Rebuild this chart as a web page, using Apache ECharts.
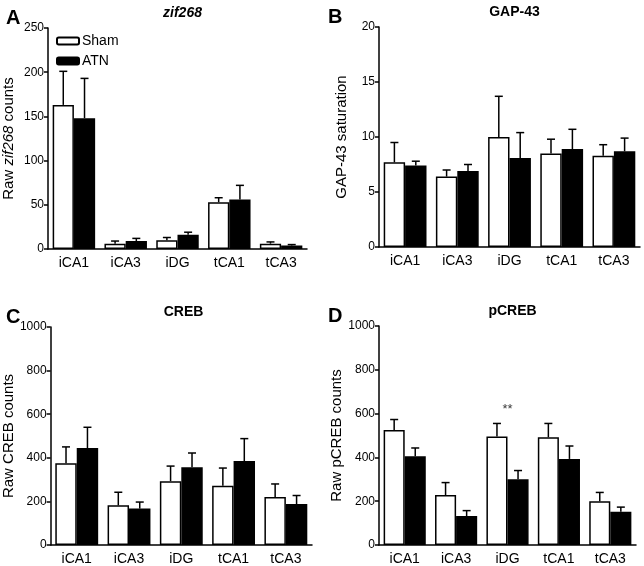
<!DOCTYPE html>
<html><head><meta charset="utf-8">
<script src="https://cdn.jsdelivr.net/npm/echarts@6/dist/echarts.min.js"></script>
<style>html,body{margin:0;padding:0;background:#fff}#c{width:644px;height:566px}</style>
</head><body><div id="c"></div>
<script>
var categories = ['iCA1','iCA3','iDG','tCA1','tCA3'];

var zifSham = [163, 6, 10, 53, 6];
var zifShamErr = [201, 9, 13, 58, 8];
var zifATN = [148, 9, 16, 56, 4];
var zifATNErr = [193, 12, 19, 72, 5];

var gapSham = [7.7, 6.4, 10.0, 8.5, 8.3];
var gapShamErr = [9.5, 7.0, 13.7, 9.8, 9.3];
var gapATN = [7.4, 6.9, 8.1, 8.9, 8.7];
var gapATNErr = [7.8, 7.5, 10.4, 10.7, 9.9];

var crebSham = [375, 182, 293, 272, 220];
var crebShamErr = [450, 242, 362, 353, 280];
var crebATN = [445, 167, 357, 385, 188];
var crebATNErr = [540, 197, 422, 488, 227];

var pcrebSham = [525, 228, 495, 492, 200];
var pcrebShamErr = [573, 285, 555, 555, 240];
var pcrebATN = [405, 132, 300, 393, 152];
var pcrebATNErr = [443, 157, 340, 452, 173];

var sigCategory = ['iDG'];
var sigLevel = [620];
var sigText = ['**'];

var panels = [
  {letter:'A', title:'{i|zif268}', yname:'{n|Raw }{ni|zif268}{n| counts}', max:250, interval:50, sham:zifSham, shamErr:zifShamErr, atn:zifATN, atnErr:zifATNErr,
   grid:{left:48, top:28, width:259, height:221}},
  {letter:'B', title:'{b|GAP-43}', yname:'{n|GAP-43 saturation}', max:20, interval:5, sham:gapSham, shamErr:gapShamErr, atn:gapATN, atnErr:gapATNErr,
   grid:{left:379, top:27, width:261, height:220}},
  {letter:'C', title:'{b|CREB}', yname:'{n|Raw CREB counts}', max:1000, interval:200, sham:crebSham, shamErr:crebShamErr, atn:crebATN, atnErr:crebATNErr,
   grid:{left:45, top:327, width:267, height:222}},
  {letter:'D', title:'{b|pCREB}', yname:'{n|Raw pCREB counts}', max:1000, interval:200, sham:pcrebSham, shamErr:pcrebShamErr, atn:pcrebATN, atnErr:pcrebATNErr,
   grid:{left:379, top:326, width:257, height:221}}
];

var FONT = 'Liberation Sans';
var GAPFRAC = 0.82;

function errRender(side){
  return function(params, api){
    var base = api.coord([api.value(0), api.value(1)]);
    var top = api.coord([api.value(0), api.value(2)]);
    var bw = api.size([1,0])[0];
    var x = base[0] + side * bw * GAPFRAC / 4;
    var st = {stroke:'#000', lineWidth:1.5};
    return {type:'group', children:[
      {type:'line', shape:{x1:x, y1:base[1], x2:x, y2:top[1]}, style:st},
      {type:'line', shape:{x1:x-4, y1:top[1], x2:x+4, y2:top[1]}, style:st}
    ]};
  };
}

var option = {
  backgroundColor:'#fff',
  animation:false,
  textStyle:{fontFamily:FONT},
  grid:[], xAxis:[], yAxis:[], series:[], title:[],
  legend:{
    data:['Sham','ATN'], orient:'vertical', left:51, top:29,
    itemWidth:22, itemHeight:7, itemGap:6,
    textStyle:{fontFamily:FONT, fontSize:14, color:'#000', padding:[0,0,0,-2]}
  }
};

var titleRich = {
  i:{fontStyle:'italic', fontWeight:'bold', fontSize:14, color:'#000', fontFamily:FONT},
  b:{fontWeight:'bold', fontSize:14, color:'#000', fontFamily:FONT}
};
var nameRich = {
  n:{fontSize:15, color:'#000', fontFamily:FONT},
  ni:{fontSize:15, fontStyle:'italic', color:'#000', fontFamily:FONT}
};

panels.forEach(function(p, k){
  option.grid.push(p.grid);
  var cx = p.grid.left + p.grid.width/2;
  option.title.push({text:p.title, left:cx, top:p.grid.top-27, textAlign:'center',
    textStyle:{rich:titleRich}});
  option.title.push({text:p.letter, left:(k%2===0)?1:323, top:p.grid.top-25,
    textStyle:{fontSize:20, fontWeight:'bold', color:'#000', fontFamily:FONT}});
  option.xAxis.push({
    type:'category', gridIndex:k, data:categories,
    axisLine:{lineStyle:{color:'#000', width:1.5}},
    axisTick:{alignWithLabel:true, length:4, lineStyle:{color:'#000', width:1.5}},
    axisLabel:{fontSize:14, color:'#000', margin:7, fontFamily:FONT}
  });
  option.yAxis.push({
    type:'value', gridIndex:k, min:0, max:p.max, interval:p.interval,
    name:p.yname, nameLocation:'middle', nameGap:(p.max===20?30:32),
    nameTextStyle:{rich:nameRich},
    splitLine:{show:false},
    axisLine:{show:true, lineStyle:{color:'#000', width:1.5}},
    axisTick:{show:true, length:4, lineStyle:{color:'#000', width:1.5}},
    axisLabel:{fontSize:12, color:'#000', margin:4, fontFamily:FONT,
      formatter:function(v){return String(v);}}
  });
  option.series.push({
    name:'Sham', type:'bar', xAxisIndex:k, yAxisIndex:k, data:p.sham,
    barGap:'0%', barCategoryGap:'18%',
    itemStyle:{color:'#fff', borderColor:'#000', borderWidth:1.5}, z:2
  });
  option.series.push({
    name:'ATN', type:'bar', xAxisIndex:k, yAxisIndex:k, data:p.atn,
    barGap:'0%', barCategoryGap:'18%',
    itemStyle:{color:'#000', borderColor:'#000', borderWidth:1.5}, z:2
  });
  option.series.push({
    type:'custom', xAxisIndex:k, yAxisIndex:k, z:3, silent:true,
    renderItem:errRender(-1),
    data:p.sham.map(function(v,i){return [i, v, p.shamErr[i]];})
  });
  option.series.push({
    type:'custom', xAxisIndex:k, yAxisIndex:k, z:3, silent:true,
    renderItem:errRender(1),
    data:p.atn.map(function(v,i){return [i, v, p.atnErr[i]];})
  });
  if (p.letter === 'D') {
    option.series.push({
      type:'scatter', xAxisIndex:k, yAxisIndex:k, symbolSize:1, silent:true,
      itemStyle:{color:'rgba(0,0,0,0)'},
      data:sigCategory.map(function(c,i){return [c, sigLevel[i], sigText[i]];}),
      label:{show:true, position:'inside', formatter:function(d){return d.value[2];},
        fontSize:13, color:'#000', fontFamily:FONT}
    });
  }
});

var chart = echarts.init(document.getElementById('c'), null, {renderer:'canvas'});
chart.setOption(option);
</script></body></html>
